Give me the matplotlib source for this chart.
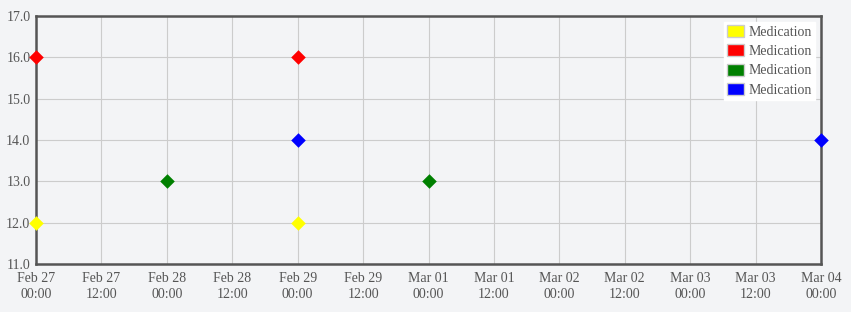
import matplotlib.pyplot as plt
import matplotlib.dates as mdates
from datetime import datetime, timedelta

# 数据
yellow_x = ["2024-02-27 00:00", "2024-02-29 00:00"]
yellow_y = [12, 12]
red_x = ["2024-02-27 00:00", "2024-02-29 00:00"]
red_y = [16, 16]
green_x = ["2024-02-28 00:00", "2024-03-01 00:00"]
green_y = [13, 13]
blue_x = ["2024-02-29 00:00", "2024-03-04 00:00"]
blue_y = [14, 14]
labels = ["Medication", "Medication", "Medication", "Medication"]
colors = ["#ffff00", "#ff0000", "#008000", "#0000ff"]

plt.rcParams['font.family'] = ['Liberation Serif', 'DejaVu Serif']

def parse(lst):
    return [datetime.strptime(s, "%Y-%m-%d %H:%M") for s in lst]

bg = "#f3f4f6"
fig = plt.figure(figsize=(8.51, 3.12), dpi=100, facecolor=bg)
ax = fig.add_axes([36 / 851, 48 / 312, 785 / 851, 248 / 312])
ax.set_facecolor(bg)

series = [(yellow_x, yellow_y), (red_x, red_y), (green_x, green_y), (blue_x, blue_y)]
for (xs, ys), c, lab in zip(series, colors, labels):
    ax.scatter(parse(xs), ys, marker="D", s=55, color=c, label=lab,
               clip_on=False, zorder=3, linewidths=0)

start = datetime(2024, 2, 27)
end = datetime(2024, 3, 4)
ax.set_xlim(start, end)
ax.set_ylim(11, 17)
ticks = [start + timedelta(hours=12 * i) for i in range(13)]
ax.set_xticks(ticks)
ax.xaxis.set_major_formatter(mdates.DateFormatter("%b %d\n%H:%M"))
ax.set_yticks(range(11, 18))
ax.set_yticklabels([f"{v:.1f}" for v in range(11, 18)])
ax.tick_params(length=0, labelsize=10, colors="#555555", pad=4)
ax.tick_params(axis="x", pad=6)
for t in ax.get_xticklabels():
    t.set_linespacing(1.25)
ax.grid(True, color="#cccccc", linewidth=0.8)
ax.set_axisbelow(True)
for sp in ax.spines.values():
    sp.set_color("#555555")
    sp.set_linewidth(1.8)

handles = [plt.Rectangle((0, 0), 1, 1, facecolor=c, edgecolor="#cccccc", linewidth=1)
           for c in colors]
leg = ax.legend(handles, labels, loc="upper right", fontsize=10, frameon=True,
                fancybox=False, framealpha=1, edgecolor="white", facecolor="white",
                handlelength=1.22, handleheight=0.95, labelspacing=0.4,
                handletextpad=0.36, borderaxespad=0.43, borderpad=0.22)
for t in leg.get_texts():
    t.set_color("#555555")

fig.savefig("out.png", dpi=100, facecolor=bg)
